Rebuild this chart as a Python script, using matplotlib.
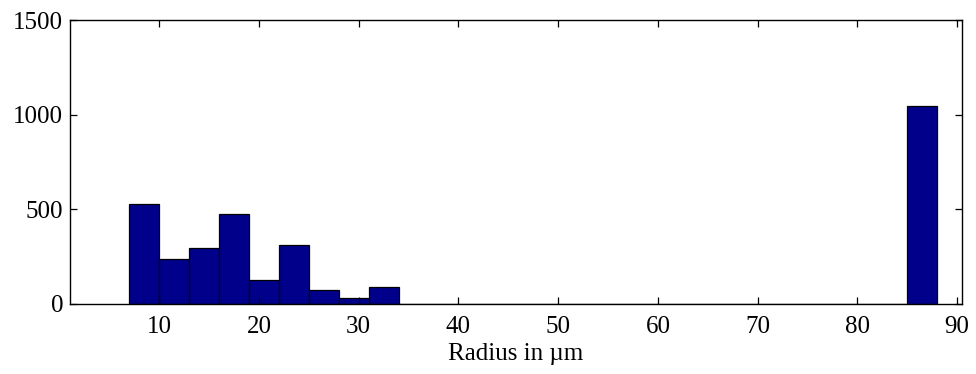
import numpy as np
import matplotlib
matplotlib.use("Agg")
import matplotlib.pyplot as plt

plt.rcParams['font.family'] = ['Liberation Serif', 'DejaVu Serif']

# histogram bins (radius, um) and counts per bin
bin_edges = np.arange(7, 89, 3)
counts = [528, 235, 295, 475, 128, 312, 75, 29, 89,
          0, 0, 0, 0, 0, 0, 0, 0, 0, 0, 0, 0, 0, 0, 0, 0, 0, 1045]

xticks = [10, 20, 30, 40, 50, 60, 70, 80, 90]
yticks = [0, 500, 1000, 1500]

fig = plt.figure(figsize=(9.76, 3.74), dpi=100)
ax = fig.add_axes([0.0717, 0.1872, 0.9136, 0.7593])

ax.bar(bin_edges[:-1], counts, width=np.diff(bin_edges), align='edge',
       color='#00008B', edgecolor='black', linewidth=0.9)

ax.set_xlim(1.05, 90.45)
ax.set_ylim(0, 1500)
ax.set_xticks(xticks)
ax.set_yticks(yticks)
ax.tick_params(direction='in', top=True, right=True, length=5, width=0.9,
               labelsize=18, colors='black')
ax.tick_params(axis='x', pad=9)
ax.tick_params(axis='y', pad=5)
for s in ax.spines.values():
    s.set_linewidth(1.0)

ax.set_xlabel('Radius in \u00b5m', fontsize=18, labelpad=3)

fig.savefig('out.png', dpi=100)
